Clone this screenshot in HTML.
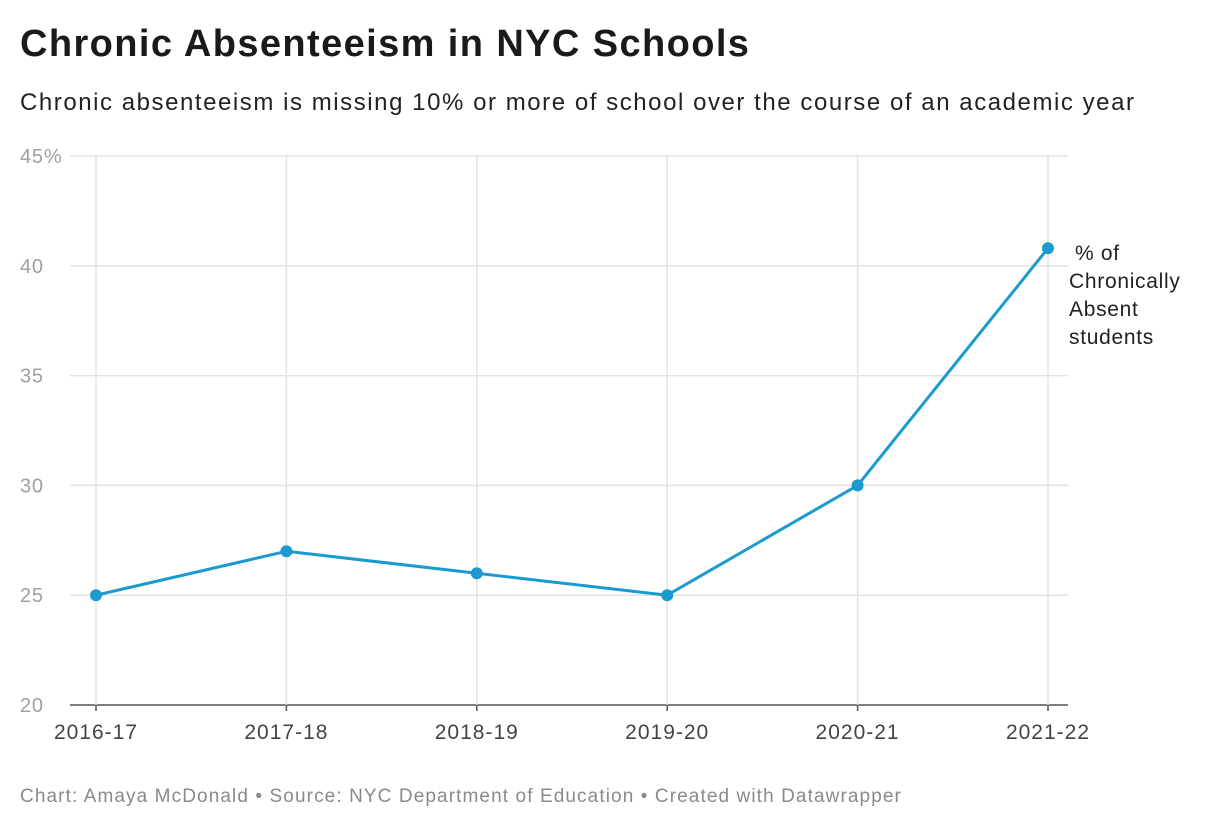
<!DOCTYPE html>
<html><head><meta charset="utf-8">
<style>
body{margin:0;background:#fff;font-family:"Liberation Sans",sans-serif;}
#wrap{position:relative;width:1224px;height:830px;overflow:hidden;}
h1{position:absolute;left:20px;top:23px;margin:0;font-size:38px;font-weight:bold;color:#1a1a1a;letter-spacing:1.4px;white-space:nowrap}
.sub{position:absolute;left:20px;top:89px;font-size:24px;color:#222;letter-spacing:1.55px;white-space:nowrap}
.foot{position:absolute;left:20px;top:786px;font-size:19px;color:#8a8a8a;letter-spacing:1.1px;white-space:nowrap}
svg{position:absolute;left:0;top:0}
</style></head><body>
<div id="wrap">
<h1>Chronic Absenteeism in NYC Schools</h1>
<div class="sub">Chronic absenteeism is missing 10% or more of school over the course of an academic year</div>
<svg id="svg" width="1224" height="830"></svg>
<div class="foot">Chart: Amaya McDonald • Source: NYC Department of Education • Created with Datawrapper</div>
</div>
<script>
const categories=["2016-17","2017-18","2018-19","2019-20","2020-21","2021-22"];
const values=[25,27,26,25,30,40.8];
const yTicks=[20,25,30,35,40,45];
const yTickLabels=["20","25","30","35","40","45%"];
const svg=document.getElementById('svg');
const NS='http://www.w3.org/2000/svg';
const x=i=>96+i*(1048-96)/(categories.length-1);
const y=v=>705-(v-20)*(705-156)/25;
function mk(t,a){const e=document.createElementNS(NS,t);for(const k in a)e.setAttribute(k,a[k]);svg.appendChild(e);return e;}
yTicks.forEach((t,i)=>{
 const l=mk('line',{x1:70,x2:1068,y1:y(t),y2:y(t),stroke:t===20?'#555':'#e3e3e3','stroke-width':1.5});
 
 
 const tx=mk('text',{x:20,y:y(t)+7,'font-size':20,fill:'#a0a0a0','letter-spacing':0.8,'font-family':'Liberation Sans'});
 tx.textContent=yTickLabels[i];
 
 
});
categories.forEach((c,i)=>{
 const l=mk('line',{x1:x(i),x2:x(i),y1:156,y2:705,stroke:'#e3e3e3','stroke-width':1.5});
 
 
 const tk=mk('line',{x1:x(i),x2:x(i),y1:705,y2:711,stroke:'#555','stroke-width':1.5});
 
 
 const tx=mk('text',{x:x(i),y:739,'font-size':21,fill:'#444','letter-spacing':1,'text-anchor':'middle','font-family':'Liberation Sans'});
 tx.textContent=c;
 
 
});
const line=mk('polyline',{points:values.map((v,i)=>x(i)+','+y(v)).join(' '),fill:'none',stroke:'#1b9ad0','stroke-width':3,'stroke-linejoin':'round'});


values.forEach((v,i)=>{
 const c=mk('circle',{cx:x(i),cy:y(v),r:6,fill:'#1b9ad0'});
 
 
});
const lbl=["% of","Chronically","Absent","students"];
const last=values.length-1;
lbl.forEach((s,i)=>{
 const t=mk('text',{x:i===0?1075:1069,y:y(values[last])+12+i*28,'font-size':21,'letter-spacing':0.7,fill:'#222','font-family':'Liberation Sans'});
 t.textContent=s;
 
 
});
</script>
</body></html>
